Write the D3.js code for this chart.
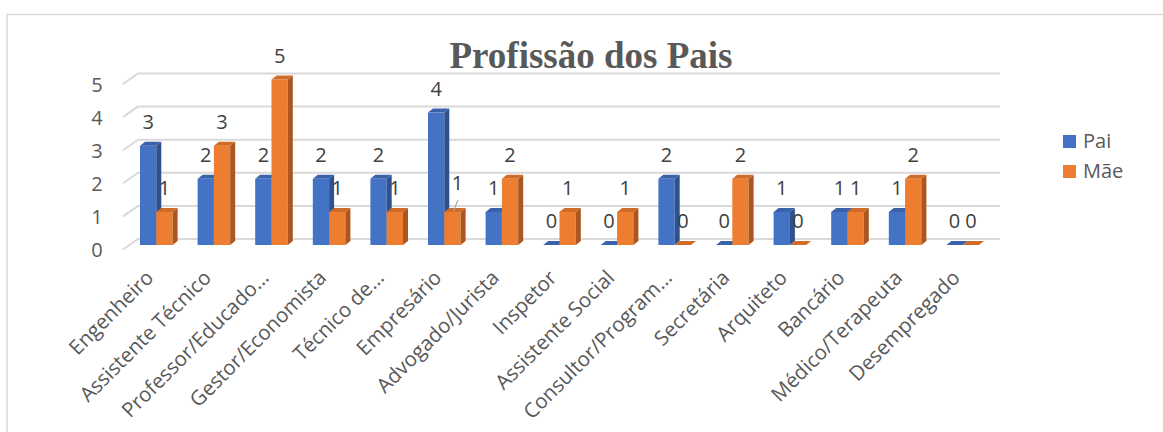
<!DOCTYPE html>
<html>
<head>
<meta charset="utf-8">
<script src="https://cdn.jsdelivr.net/npm/d3@7"></script>
<style>
  body { margin: 0; background: #fff; }
  text { font-family: "Open Sans", sans-serif; }
</style>
</head>
<body>
<div id="chart"></div>
<script>
// categories and values
const categories = ["Engenheiro", "Assistente Técnico", "Professor/Educado…", "Gestor/Economista",
  "Técnico de…", "Empresário", "Advogado/Jurista", "Inspetor", "Assistente Social",
  "Consultor/Program…", "Secretária", "Arquiteto", "Bancário", "Médico/Terapeuta", "Desempregado"];
const pai = [3, 2, 2, 2, 2, 4, 1, 0, 0, 2, 0, 1, 1, 1, 0];
const mae = [1, 3, 5, 1, 1, 1, 2, 1, 1, 0, 2, 0, 1, 2, 0];
const seriesNames = ["Pai", "Mãe"];
const yTicks = [0, 1, 2, 3, 4, 5];

const W = 1163, H = 432;
const colors = {
  Pai: { front: "#4472C4", side: "#2F528F", top: "#3A62AA" },
  "Mãe": { front: "#ED7D31", side: "#A9561F", top: "#D06B28" }
};
const depthX = 5, depthY = 4;

const svg = d3.select("#chart").append("svg")
  .attr("width", W).attr("height", H);

// chart area border
svg.append("path")
  .attr("d", "M7," + H + " V14.5 H" + W)
  .attr("fill", "none").attr("stroke", "#d9d9d9").attr("stroke-width", 1.5);

// scales
let x = d3.scaleBand()
  .domain(categories)
  .range([127.5, 991.5])
  .paddingInner(0.434)
  .paddingOuter(0.217);
let xs = d3.scaleBand()
  .domain(seriesNames)
  .range([0, x.bandwidth()]);
let y = d3.scaleLinear()
  .domain([0, 5])
  .range([245, 79.5]);

// gridlines on the back wall, with a diagonal to the front
let grid = svg.append("g");
yTicks.forEach(function (v) {
  let yb = y(v) - 6;
  grid.append("path")
    .attr("d", "M123," + (y(v) + 4.5) + " L138," + yb + " H1000")
    .attr("fill", "none").attr("stroke", "#d9d9d9").attr("stroke-width", 2);
  grid.append("text")
    .attr("x", 97).attr("y", y(v) + 5).attr("dy", "0.35em")
    .attr("text-anchor", "middle")
    .attr("font-size", 20).attr("fill", "#595959")
    .text(v);
});

// bars
let data = [];
seriesNames.forEach(function (s, si) {
  let vals = si === 0 ? pai : mae;
  categories.forEach(function (c, i) {
    data.push({ cat: c, series: s, value: vals[i] });
  });
});

let bars = svg.append("g");
data.forEach(function (d) {
  let x0 = x(d.cat) + xs(d.series);
  let w = xs.bandwidth();
  let yt = y(d.value), yb = y(0);
  let col = colors[d.series];
  let g = bars.append("g");
  // front face
  g.append("rect")
    .attr("x", x0).attr("y", yt).attr("width", w).attr("height", yb - yt)
    .attr("fill", col.front);
  // side face
  g.append("path")
    .attr("d", "M" + (x0 + w) + "," + yt + " L" + (x0 + w + depthX) + "," + (yt - depthY) +
      " L" + (x0 + w + depthX) + "," + (yb - depthY) + " L" + (x0 + w) + "," + yb + "Z")
    .attr("fill", col.side);
  // top face
  g.append("path")
    .attr("d", "M" + x0 + "," + yt + " L" + (x0 + depthX) + "," + (yt - depthY) +
      " L" + (x0 + w + depthX) + "," + (yt - depthY) + " L" + (x0 + w) + "," + yt + "Z")
    .attr("fill", col.top);
});

// data labels
let labels = svg.append("g");
data.forEach(function (d) {
  let cx = x(d.cat) + xs(d.series) + xs.bandwidth() / 2;
  let cy = y(d.value) - 24;
  // the Empresário / Mãe label was nudged in the original, with a leader line
  if (d.cat === "Empresário" && d.series === "Mãe") {
    labels.append("line")
      .attr("x1", cx + 5.5).attr("y1", y(d.value) - 12)
      .attr("x2", cx + 1).attr("y2", y(d.value) - 0.5)
      .attr("stroke", "#a6a6a6").attr("stroke-width", 1.2);
    cx += 5; cy -= 5;
  }
  labels.append("text")
    .attr("x", cx).attr("y", cy).attr("dy", "0.35em")
    .attr("text-anchor", "middle")
    .attr("font-size", 20).attr("fill", "#404040")
    .text(d.value);
});

// category labels, rotated
svg.append("g").selectAll("text")
  .data(categories)
  .enter().append("text")
  .attr("transform", function (d) {
    return "translate(" + (x(d) + x.bandwidth() / 2 - 1.5) + ",279) rotate(-45)";
  })
  .attr("text-anchor", "end")
  .attr("font-size", 20.5).attr("fill", "#595959")
  .text(function (d) { return d; });

// title
svg.append("text")
  .attr("x", 591).attr("y", 68)
  .attr("text-anchor", "middle")
  .style("font-family", "'Liberation Serif', 'Times New Roman', serif")
  .attr("font-weight", "bold").attr("font-size", 37).attr("fill", "#595959")
  .text("Profissão dos Pais");

// legend
let legend = svg.append("g");
seriesNames.forEach(function (s, i) {
  legend.append("rect")
    .attr("x", 1063).attr("y", 135 + i * 30).attr("width", 13).attr("height", 13)
    .attr("fill", colors[s].front);
  legend.append("text")
    .attr("x", 1083).attr("y", 148 + i * 30)
    .attr("font-size", 20).attr("fill", "#595959")
    .text(s);
});
</script>
</body>
</html>
